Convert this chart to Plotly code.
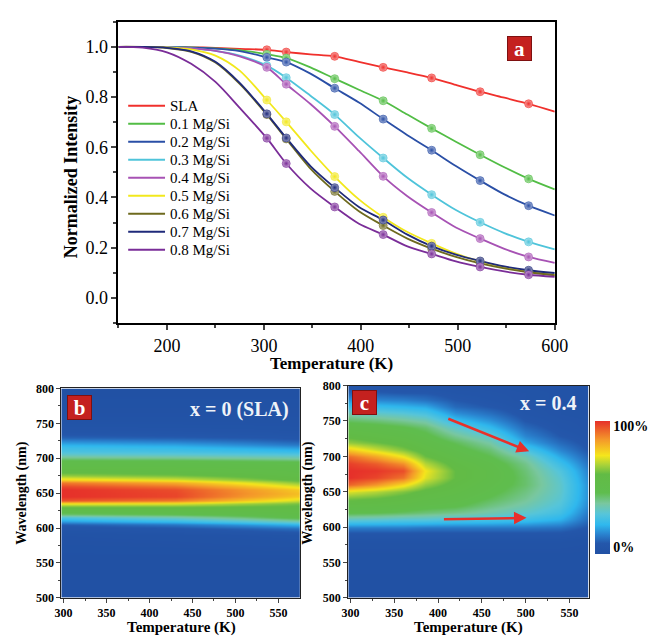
import numpy as np
import plotly.graph_objects as go

# ---------------- Panel a data ----------------
T_CURVE = [150, 175, 200, 225, 250, 275, 303, 323, 348, 373, 398, 423, 448, 473, 498, 523, 548, 573, 600]
T_MARK = [303, 323, 373, 423, 473, 523, 573]

SERIES_NAMES = ["SLA", "0.1 Mg/Si", "0.2 Mg/Si", "0.3 Mg/Si", "0.4 Mg/Si",
                "0.5 Mg/Si", "0.6 Mg/Si", "0.7 Mg/Si", "0.8 Mg/Si"]
SERIES_COLORS = ["#f0302c", "#52bd45", "#2a4fa6", "#4fc4da", "#a752b4",
                 "#f2e81c", "#6e6a1e", "#1f2a7a", "#7a2d98"]

I_SLA = [1.0, 1.0, 0.999, 0.998, 0.996, 0.992, 0.988, 0.979, 0.970, 0.962, 0.940, 0.918, 0.898, 0.876, 0.848, 0.821, 0.797, 0.773, 0.742]
I_01 = [1.0, 1.0, 0.999, 0.998, 0.994, 0.987, 0.970, 0.955, 0.918, 0.873, 0.829, 0.785, 0.730, 0.675, 0.622, 0.570, 0.520, 0.474, 0.432]
I_02 = [1.0, 1.0, 0.999, 0.997, 0.993, 0.983, 0.958, 0.939, 0.893, 0.835, 0.778, 0.712, 0.648, 0.588, 0.525, 0.467, 0.412, 0.367, 0.328]
I_03 = [1.0, 0.9995, 0.9985, 0.994, 0.984, 0.965, 0.925, 0.877, 0.805, 0.730, 0.640, 0.557, 0.478, 0.411, 0.350, 0.301, 0.258, 0.223, 0.193]
I_04 = [1.0, 0.9995, 0.998, 0.994, 0.984, 0.962, 0.918, 0.851, 0.772, 0.683, 0.585, 0.484, 0.405, 0.340, 0.280, 0.236, 0.195, 0.163, 0.139]
I_05 = [1.0, 0.9995, 0.998, 0.990, 0.965, 0.905, 0.788, 0.701, 0.588, 0.483, 0.392, 0.321, 0.262, 0.217, 0.176, 0.145, 0.122, 0.104, 0.091]
I_06 = [1.0, 0.9995, 0.995, 0.980, 0.937, 0.852, 0.730, 0.633, 0.515, 0.424, 0.345, 0.288, 0.236, 0.196, 0.163, 0.137, 0.117, 0.102, 0.090]
I_07 = [1.0, 0.9995, 0.996, 0.982, 0.940, 0.856, 0.733, 0.637, 0.525, 0.439, 0.362, 0.310, 0.252, 0.206, 0.172, 0.147, 0.125, 0.110, 0.099]
I_08 = [1.0, 0.997, 0.978, 0.932, 0.860, 0.757, 0.636, 0.535, 0.436, 0.362, 0.295, 0.252, 0.205, 0.175, 0.145, 0.123, 0.105, 0.092, 0.084]
SERIES_VALUES = [I_SLA, I_01, I_02, I_03, I_04, I_05, I_06, I_07, I_08]

# ---------------- Panel b data (x = 0, SLA) ----------------
WL_B = [500, 560, 590, 600, 605, 610, 615, 620, 625, 630, 635, 640, 645, 650, 655, 660, 665,
        670, 675, 680, 685, 690, 695, 700, 705, 710, 715, 720, 725, 730, 740, 760, 800]
T_B = [297, 430, 510, 575]
B_297 = [0, 0.005, 0.02, 0.05, 0.09, 0.18, 0.28, 0.42, 0.52, 0.58, 0.74, 0.95, 1.0, 1.0, 1.0, 0.97, 0.90,
         0.76, 0.65, 0.60, 0.56, 0.53, 0.50, 0.42, 0.33, 0.28, 0.25, 0.21, 0.15, 0.10, 0.05, 0.02, 0.0]
B_430 = [0, 0.005, 0.026, 0.07, 0.13, 0.23, 0.34, 0.45, 0.53, 0.58, 0.72, 0.90, 0.97, 0.97, 0.96, 0.91, 0.83,
         0.71, 0.62, 0.58, 0.55, 0.52, 0.49, 0.41, 0.32, 0.27, 0.23, 0.19, 0.13, 0.09, 0.047, 0.02, 0.0]
B_510 = [0, 0.006, 0.033, 0.096, 0.175, 0.29, 0.41, 0.485, 0.54, 0.58, 0.66, 0.79, 0.86, 0.87, 0.86, 0.81, 0.73,
         0.64, 0.585, 0.555, 0.535, 0.51, 0.475, 0.395, 0.31, 0.255, 0.205, 0.16, 0.11, 0.08, 0.044, 0.02, 0.0]
B_575 = [0, 0.006, 0.04, 0.12, 0.22, 0.35, 0.48, 0.52, 0.55, 0.58, 0.62, 0.70, 0.78, 0.80, 0.78, 0.72, 0.64,
         0.58, 0.55, 0.53, 0.52, 0.50, 0.46, 0.38, 0.30, 0.24, 0.18, 0.13, 0.09, 0.07, 0.04, 0.02, 0.0]
B_PROFILES = [B_297, B_430, B_510, B_575]

# ---------------- Panel c data (x = 0.4) ----------------
WL_C = [500, 560, 580, 590, 600, 610, 620, 630, 640, 650, 660, 670, 680, 690, 700, 710, 720,
        730, 740, 750, 760, 770, 780, 790, 800]
T_C = [297, 330, 360, 385, 420, 460, 500, 540, 575]
C_297 = [0, 0.01, 0.03, 0.06, 0.14, 0.32, 0.47, 0.55, 0.62, 0.72, 0.93, 1.0, 1.0, 0.98, 0.92, 0.78, 0.65, 0.58, 0.52, 0.44, 0.36, 0.26, 0.17, 0.10, 0.06]
C_330 = [0, 0.01, 0.03, 0.06, 0.14, 0.31, 0.46, 0.54, 0.60, 0.68, 0.86, 0.97, 0.99, 0.94, 0.84, 0.70, 0.61, 0.55, 0.50, 0.42, 0.33, 0.24, 0.15, 0.09, 0.05]
C_360 = [0, 0.01, 0.03, 0.06, 0.14, 0.30, 0.44, 0.52, 0.57, 0.63, 0.76, 0.91, 0.96, 0.87, 0.74, 0.63, 0.57, 0.52, 0.47, 0.39, 0.31, 0.22, 0.14, 0.08, 0.05]
C_385 = [0, 0.01, 0.03, 0.06, 0.13, 0.30, 0.42, 0.49, 0.54, 0.58, 0.65, 0.72, 0.74, 0.68, 0.61, 0.56, 0.52, 0.48, 0.43, 0.36, 0.28, 0.20, 0.12, 0.08, 0.05]
C_420 = [0, 0.01, 0.03, 0.06, 0.13, 0.28, 0.40, 0.47, 0.51, 0.54, 0.57, 0.60, 0.60, 0.57, 0.53, 0.49, 0.45, 0.39, 0.32, 0.24, 0.17, 0.11, 0.08, 0.06, 0.04]
C_460 = [0, 0.01, 0.03, 0.06, 0.13, 0.27, 0.36, 0.41, 0.45, 0.48, 0.50, 0.52, 0.52, 0.50, 0.46, 0.42, 0.37, 0.31, 0.23, 0.17, 0.12, 0.08, 0.06, 0.05, 0.04]
C_500 = [0, 0.01, 0.03, 0.06, 0.13, 0.25, 0.32, 0.36, 0.39, 0.41, 0.43, 0.43, 0.42, 0.40, 0.36, 0.28, 0.20, 0.15, 0.11, 0.08, 0.06, 0.05, 0.04, 0.04, 0.03]
C_540 = [0, 0.01, 0.03, 0.06, 0.12, 0.21, 0.26, 0.29, 0.31, 0.32, 0.32, 0.31, 0.29, 0.25, 0.20, 0.15, 0.11, 0.08, 0.06, 0.05, 0.04, 0.04, 0.03, 0.03, 0.03]
C_575 = [0, 0.01, 0.02, 0.04, 0.07, 0.10, 0.12, 0.14, 0.15, 0.15, 0.15, 0.14, 0.13, 0.11, 0.09, 0.07, 0.06, 0.05, 0.04, 0.04, 0.03, 0.03, 0.03, 0.03, 0.03]
C_PROFILES = [C_297, C_330, C_360, C_385, C_420, C_460, C_500, C_540, C_575]

CB_TICKS = [0.05, 0.96]
CB_LABELS = ["0%", "100%"]

COLORSCALE = [
    [0.0, "#2151a4"], [0.08, "#2457ab"], [0.15, "#2a84d0"], [0.22, "#2fb8ee"],
    [0.30, "#56c5da"], [0.38, "#79c79f"], [0.46, "#5fbd4e"], [0.60, "#62bb45"],
    [0.67, "#aad239"], [0.74, "#f5e61c"], [0.86, "#f4982a"], [1.0, "#e6302a"],
]

SERIF = "Liberation Serif"
W, H = 656, 642


def px(x):
    return x / W


def py(y):
    return 1 - y / H


def lighten(hexc, f):
    h = hexc.lstrip("#")
    r, g, b = int(h[0:2], 16), int(h[2:4], 16), int(h[4:6], 16)
    r = int(r + (255 - r) * f); g = int(g + (255 - g) * f); b = int(b + (255 - b) * f)
    return f"#{r:02x}{g:02x}{b:02x}"


fig = go.Figure()

# Panel a lines and markers
for name, col, vals in zip(SERIES_NAMES, SERIES_COLORS, SERIES_VALUES):
    fig.add_trace(go.Scatter(
        x=T_CURVE, y=vals, mode="lines", name=name,
        line=dict(color=col, width=1.8, shape="spline", smoothing=0.8),
        xaxis="x", yaxis="y", showlegend=False))
for name, col, vals in zip(SERIES_NAMES, SERIES_COLORS, SERIES_VALUES):
    mx = [t for t in T_CURVE if t in T_MARK]
    my = [v for t, v in zip(T_CURVE, vals) if t in T_MARK]
    fig.add_trace(go.Scatter(
        x=mx, y=my, mode="markers", showlegend=False,
        marker=dict(size=8, color=lighten(col, 0.55),
                    gradient=dict(type="radial", color=col),
                    line=dict(width=0.6, color=col)),
        xaxis="x", yaxis="y"))

# Panel b heatmap
zb = np.array(B_PROFILES).T
fig.add_trace(go.Heatmap(
    x=T_B, y=WL_B, z=zb, zmin=0, zmax=1, colorscale=COLORSCALE,
    zsmooth="best", showscale=False, xaxis="x2", yaxis="y2"))

# Panel c heatmap
zc = np.array(C_PROFILES).T
fig.add_trace(go.Heatmap(
    x=T_C, y=WL_C, z=zc, zmin=0, zmax=1, colorscale=COLORSCALE,
    zsmooth="best", xaxis="x3", yaxis="y3",
    colorbar=dict(x=px(607), xanchor="left", y=py(491), yanchor="middle",
                  len=136 / H, lenmode="fraction", thickness=15, outlinewidth=0,
                  tickvals=CB_TICKS, ticktext=CB_LABELS, ticks="",
                  tickfont=dict(family=SERIF, size=14, color="black", weight="bold"),
                  ypad=0, xpad=0)))

axis_a = dict(showline=True, linewidth=2, linecolor="black", mirror=True,
              ticks="outside", tickwidth=1.8, ticklen=5, showgrid=False, zeroline=False,
              tickfont=dict(family=SERIF, size=18, color="black"))
hm_font = dict(family=SERIF, size=12, color="black", weight="bold")
axis_hm = dict(showline=True, linewidth=1, linecolor="#222", mirror=True,
               ticks="outside", tickwidth=1, ticklen=4, showgrid=False, zeroline=False,
               tickfont=hm_font, dtick=50, tick0=0,
               minor=dict(dtick=25, ticklen=2, ticks="outside"))

fig.update_layout(
    width=W, height=H, margin=dict(l=0, r=0, t=0, b=0),
    paper_bgcolor="white", plot_bgcolor="white",
    font=dict(family=SERIF, color="black"),
    xaxis=dict(axis_a, domain=[px(115), px(565)], range=[150, 600], dtick=100, tick0=0,
               minor=dict(dtick=50, ticklen=3, tickwidth=1.5, ticks="outside"),
               anchor="y"),
    yaxis=dict(axis_a, domain=[py(323), py(15)], range=[-0.1, 1.1], dtick=0.2, tick0=0,
               tickformat=".1f",
               minor=dict(dtick=0.1, ticklen=3, tickwidth=1.5, ticks="outside"),
               anchor="x"),
    xaxis2=dict(axis_hm, domain=[px(56), px(302)], range=[297.4, 574.8], anchor="y2"),
    yaxis2=dict(axis_hm, domain=[py(604), py(390)], range=[500, 800], anchor="x2"),
    xaxis3=dict(axis_hm, domain=[px(352), px(600)], range=[297.5, 572], anchor="y3"),
    yaxis3=dict(axis_hm, domain=[py(604), py(387)], range=[500, 800], anchor="x3"),
    showlegend=False,
)

ann = []
shapes = []


def text_ann(text, x, y, size, angle=0, color="black", weight="bold", xanchor="center"):
    return dict(text=text, x=px(x), y=py(y), xref="paper", yref="paper", showarrow=False,
                xanchor=xanchor, yanchor="middle", textangle=angle,
                font=dict(family=SERIF, size=size, color=color, weight=weight))


ann.append(text_ann("Temperature (K)", 335, 364, 17))
ann.append(text_ann("Normalized Intensity", 66, 174, 18, angle=-90))
ann.append(text_ann("Temperature (K)", 180, 634, 15))
ann.append(text_ann("Wavelength (nm)", 16, 497, 14, angle=-90))
ann.append(text_ann("Temperature (K)", 476, 634, 15))
ann.append(text_ann("Wavelength (nm)", 311, 497, 14, angle=-90))

# legend of panel a (line sample + label)
for i, (name, col) in enumerate(zip(SERIES_NAMES, SERIES_COLORS)):
    yy = 101 + 18.4 * i
    shapes.append(dict(type="line", xref="paper", yref="paper",
                       x0=px(125), x1=px(163), y0=py(yy), y1=py(yy),
                       line=dict(color=col, width=2)))
    ann.append(text_ann(name, 166, yy, 15, weight="normal", xanchor="left"))

# panel labels
for lab, cx, cy in [("a", 529, 42), ("b", 74.5, 409), ("c", 369, 404)]:
    ann.append(dict(text=lab, x=px(cx), y=py(cy), xref="paper", yref="paper", showarrow=False,
                    xanchor="center", yanchor="middle",
                    font=dict(family=SERIF, size=21, color="white", weight="bold"),
                    bgcolor="#c4211f", bordercolor="#7e1010", borderwidth=1, borderpad=1,
                    width=21, height=21))
ann.append(text_ann("x = 0 (SLA)", 240, 411, 20, color="#eef2f8"))
ann.append(text_ann("x = 0.4", 558, 405, 20, color="#eef2f8"))
# arrows in panel c
ann.append(dict(x=504, y=707, ax=410, ay=754, xref="x3", yref="y3", axref="x3", ayref="y3",
                text="", showarrow=True, arrowhead=2, arrowsize=1, arrowwidth=2.5,
                arrowcolor="#e8302a"))
ann.append(dict(x=501, y=613, ax=405, ay=611, xref="x3", yref="y3", axref="x3", ayref="y3",
                text="", showarrow=True, arrowhead=2, arrowsize=1, arrowwidth=2.5,
                arrowcolor="#e8302a"))
fig.update_layout(annotations=ann, shapes=shapes)

fig.write_html("out.html")
